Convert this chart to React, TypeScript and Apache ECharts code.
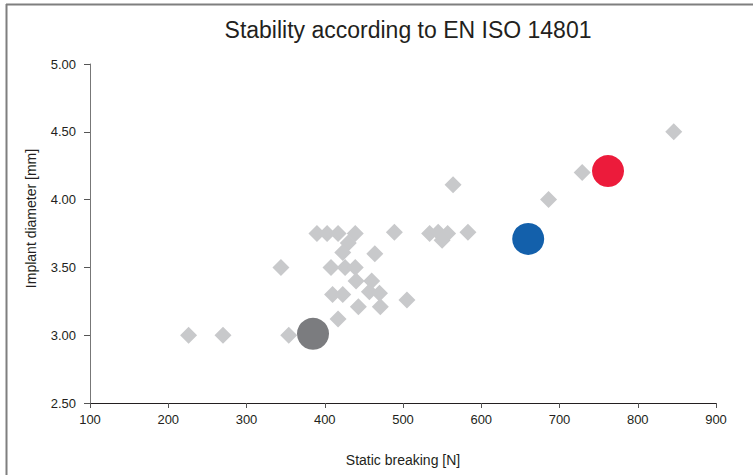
import React, { useEffect, useRef } from "react";
import * as echarts from "echarts";

const chartTitle = "Stability according to EN ISO 14801";
const xAxisName = "Static breaking [N]";
const yAxisName = "Implant diameter [mm]";

// Grey diamonds: other implants (static breaking [N], diameter [mm])
const othersX = [226, 270, 354, 344, 390, 403, 417, 439, 430, 423, 464, 408, 426, 439, 440, 460, 410, 423, 457, 470, 505, 443, 471, 417, 489, 534, 545, 557, 550, 583, 564, 686, 729, 846];
const othersY = [3.0, 3.0, 3.0, 3.5, 3.75, 3.75, 3.75, 3.75, 3.68, 3.61, 3.6, 3.5, 3.5, 3.5, 3.4, 3.4, 3.3, 3.3, 3.32, 3.31, 3.26, 3.21, 3.21, 3.12, 3.76, 3.75, 3.76, 3.75, 3.7, 3.76, 4.11, 4.0, 4.2, 4.5];

// Highlighted implants
const greyPoint = [385, 3.01];
const bluePoint = [660, 3.71];
const redPoint = [762, 4.21];

const xTicks = { min: 100, max: 900, interval: 100 };
const yTicks = { min: 2.5, max: 5.0, interval: 0.5 };

const FONT = "'Liberation Sans Narrow', 'Liberation Sans', Arial, sans-serif";

export default function App() {
  const ref = useRef<HTMLDivElement>(null);
  useEffect(() => {
    if (!ref.current) return;
    const chart = echarts.init(ref.current, undefined, { renderer: "svg" });
    const others = othersX.map((x, i) => [x, othersY[i]]);
    chart.setOption({
      animation: false,
      backgroundColor: "#ffffff",
      title: {
        text: chartTitle,
        left: 403,
        top: 13,
        textAlign: "center",
        textStyle: { fontFamily: FONT, fontSize: 23, fontWeight: "normal", color: "#231f20" },
      },
      graphic: [
        { type: "line", shape: { x1: 6, y1: 4.5, x2: 753, y2: 4.5 }, style: { stroke: "#7f7f7f", lineWidth: 2 } },
        { type: "line", shape: { x1: 6.5, y1: 4, x2: 6.5, y2: 475 }, style: { stroke: "#7f7f7f", lineWidth: 2 } },
      ],
      grid: { left: 90, right: 37, top: 64, bottom: 72, containLabel: false },
      xAxis: {
        type: "value",
        min: xTicks.min,
        max: xTicks.max,
        interval: xTicks.interval,
        name: xAxisName,
        nameLocation: "middle",
        nameGap: 50,
        nameTextStyle: { fontFamily: FONT, fontSize: 14, color: "#231f20" },
        axisLine: { show: true, lineStyle: { color: "#231f20", width: 1 } },
        axisTick: { show: true, length: 5, lineStyle: { color: "#555" } },
        axisLabel: { fontFamily: FONT, fontSize: 13, color: "#231f20", margin: 10 },
        splitLine: { show: false },
      },
      yAxis: {
        type: "value",
        min: yTicks.min,
        max: yTicks.max,
        interval: yTicks.interval,
        name: yAxisName,
        nameLocation: "middle",
        nameGap: 52,
        nameTextStyle: { fontFamily: FONT, fontSize: 14, color: "#231f20", padding: [0, 0, 0, 30] },
        axisLine: { show: true, lineStyle: { color: "#777", width: 1 } },
        axisTick: { show: true, length: 6, lineStyle: { color: "#555" } },
        axisLabel: {
          fontFamily: FONT,
          fontSize: 13,
          color: "#231f20",
          margin: 14,
          formatter: (v: number) => v.toFixed(2),
        },
        splitLine: { show: false },
      },
      series: [
        {
          name: "Others",
          type: "scatter",
          symbol: "diamond",
          symbolSize: 17,
          itemStyle: { color: "#c8c9cb", opacity: 1 },
          data: others,
        },
        {
          name: "Grey",
          type: "scatter",
          symbol: "circle",
          symbolSize: 32,
          itemStyle: { color: "#7b7c7f", opacity: 1 },
          data: [greyPoint],
        },
        {
          name: "Blue",
          type: "scatter",
          symbol: "circle",
          symbolSize: 32,
          itemStyle: { color: "#1360ab", opacity: 1 },
          data: [bluePoint],
        },
        {
          name: "Red",
          type: "scatter",
          symbol: "circle",
          symbolSize: 32,
          itemStyle: { color: "#ec1b3b", opacity: 1 },
          data: [redPoint],
        },
      ],
    });
    return () => chart.dispose();
  }, []);
  return (
    <div
      ref={ref}
      style={{ position: "fixed", left: 0, top: 0, width: 753, height: 475 }}
    />
  );
}
